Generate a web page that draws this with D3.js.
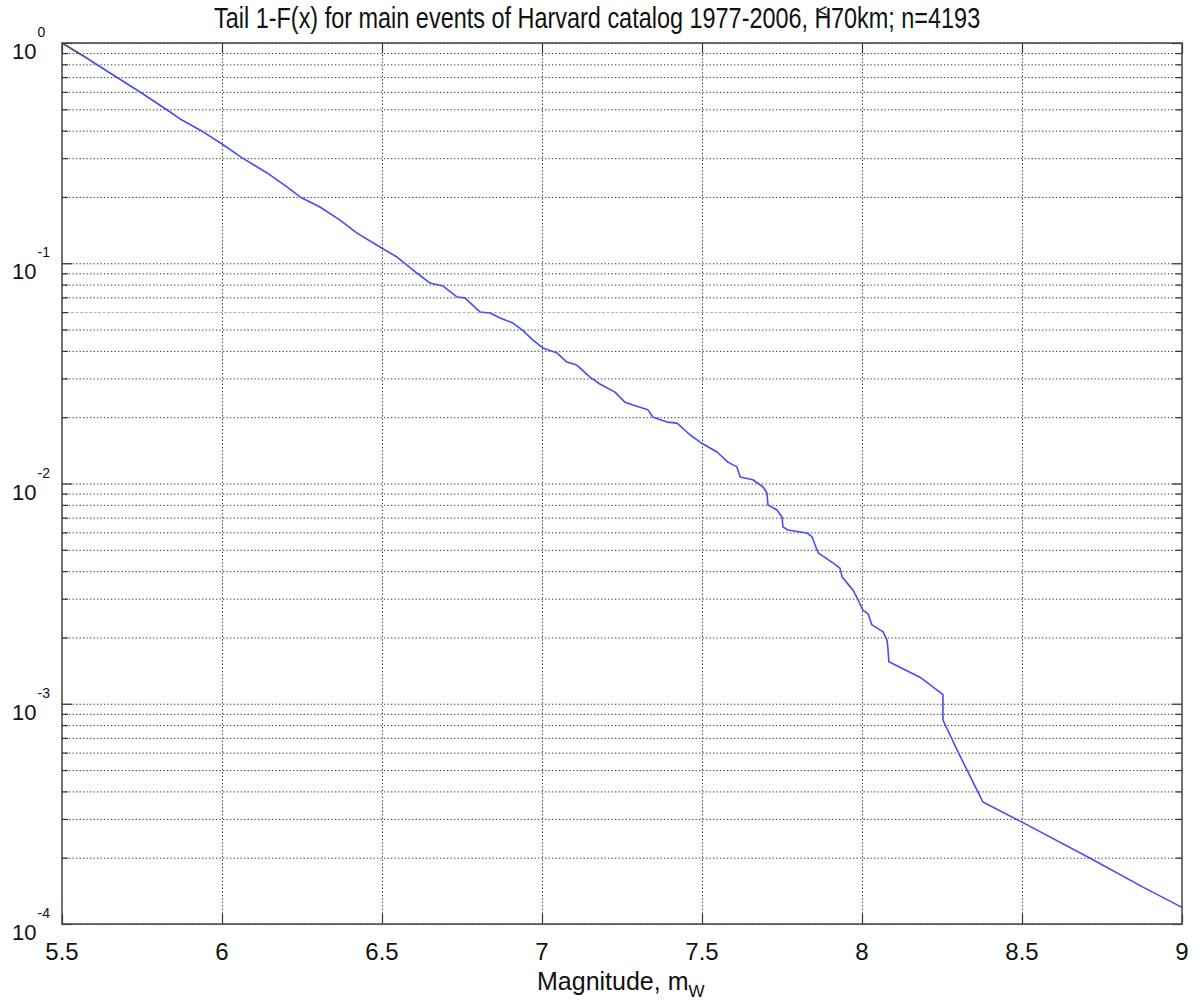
<!DOCTYPE html>
<html>
<head>
<meta charset="utf-8">
<script src="https://cdn.jsdelivr.net/npm/d3@7"></script>
<style>
  body { margin: 0; background: #fff; }
  text { font-family: "Liberation Sans", Arial, Helvetica, sans-serif; fill: #111; }
</style>
</head>
<body>
<svg id="chart" width="1203" height="1006"></svg>
<script>
// Empirical tail 1-F(x) of main-event magnitudes
const magnitudes = [
  5.500, 5.572, 5.650, 5.744, 5.838, 5.869, 5.931, 6.000, 6.063, 6.141,
  6.203, 6.244, 6.306, 6.369, 6.422, 6.500, 6.547, 6.609, 6.650, 6.691,
  6.734, 6.759, 6.806, 6.838, 6.869, 6.909, 6.938, 6.972, 7.003, 7.047,
  7.078, 7.109, 7.150, 7.181, 7.228, 7.259, 7.284, 7.331, 7.347, 7.391,
  7.422, 7.463, 7.494, 7.547, 7.581, 7.609, 7.619, 7.659, 7.691, 7.703,
  7.706, 7.734, 7.750, 7.753, 7.769, 7.828, 7.844, 7.863, 7.909, 7.931,
  7.938, 7.972, 7.988, 8.003, 8.019, 8.031, 8.066, 8.078, 8.081, 8.084,
  8.181, 8.206, 8.253, 8.253, 8.297, 8.359, 8.378, 8.500, 8.713, 8.878,
  9.000
];
const tailValues = [
  1.000, 0.864, 0.731, 0.599, 0.486, 0.452, 0.403, 0.348, 0.301, 0.257,
  0.222, 0.200, 0.180, 0.157, 0.137, 0.117, 0.1067, 0.0903, 0.0813, 0.0788,
  0.0703, 0.0696, 0.0601, 0.0594, 0.0564, 0.0535, 0.0498, 0.0448, 0.0412, 0.0391,
  0.0356, 0.0345, 0.0304, 0.0283, 0.0260, 0.0234, 0.0227, 0.0216, 0.0200, 0.0190,
  0.0188, 0.0166, 0.0154, 0.0139, 0.0125, 0.0119, 0.0107, 0.0104, 0.00964, 0.00906,
  0.00799, 0.00758, 0.00705, 0.00635, 0.00615, 0.00596, 0.00572, 0.00484, 0.00436, 0.00413,
  0.00376, 0.00328, 0.00296, 0.00266, 0.00256, 0.00228, 0.00212, 0.00195, 0.00179, 0.00155,
  0.00132, 0.00124, 0.00110, 0.000844, 0.000617, 0.000406, 0.000358, 0.000290, 0.000199, 0.000147,
  0.000119
];

const xTickValues = [5.5, 6, 6.5, 7, 7.5, 8, 8.5, 9];
const xTickLabels = ["5.5", "6", "6.5", "7", "7.5", "8", "8.5", "9"];
const decadeExponents = [0, -1, -2, -3, -4];
const minorMultipliers = [2, 3, 4, 5, 6, 7, 8, 9];
const titleParts = ["Tail 1-F(x) for main events of Harvard catalog 1977-2006, H", "\u2264", "70km; n=4193"];
const xLabelMain = "Magnitude, m";
const xLabelSub = "W";

const svg = d3.select("#chart");
const plotLeft = 62, plotRight = 1182, plotTop = 43, plotBottom = 924;
const plotW = plotRight - plotLeft, plotH = plotBottom - plotTop;

const x = d3.scaleLinear().domain([5.5, 9]).range([plotLeft, plotRight]);
const y = d3.scaleLog().domain([1e-4, 1]).range([plotBottom, plotTop]);

const decadeValues = decadeExponents.map(e => Math.pow(10, e));
const minorValues = [];
decadeExponents.filter(e => e < 0).forEach(e => {
  minorMultipliers.forEach(m => minorValues.push(+(m * Math.pow(10, e)).toPrecision(3)));
});
const allYGrid = decadeValues.concat(minorValues);
const isFaint = d => Math.abs(d - 0.06) < 1e-9;

// dotted grid
const gridY = svg.append("g").attr("transform", `translate(${plotLeft},0)`)
  .call(d3.axisLeft(y).tickValues(allYGrid).tickSize(-plotW).tickFormat(""));
gridY.select(".domain").remove();
gridY.selectAll(".tick line")
  .attr("stroke", d => isFaint(d) ? "#9a9a9a" : "#333")
  .attr("stroke-width", d => isFaint(d) ? 0.8 : 1)
  .attr("stroke-dasharray", d => isFaint(d) ? "3,1.5" : "1.3,2.2");

const gridX = svg.append("g").attr("transform", `translate(0,${plotBottom})`)
  .call(d3.axisBottom(x).tickValues(xTickValues.slice(1, -1)).tickSize(-plotH).tickFormat(""));
gridX.select(".domain").remove();
gridX.selectAll(".tick line").attr("stroke", "#333").attr("stroke-dasharray", "1.3,2.2");

// inward tick marks on all four sides
function tickSide(axisFn, scale, values, size, transform) {
  const g = svg.append("g").attr("transform", transform)
    .call(axisFn(scale).tickValues(values).tickSize(size).tickFormat(""));
  g.select(".domain").remove();
  g.selectAll(".tick line").attr("stroke", "#333").attr("stroke-width", 1.2);
}
tickSide(d3.axisLeft, y, decadeValues, -10, `translate(${plotLeft},0)`);
tickSide(d3.axisLeft, y, minorValues, -6, `translate(${plotLeft},0)`);
tickSide(d3.axisRight, y, decadeValues, -10, `translate(${plotRight},0)`);
tickSide(d3.axisRight, y, minorValues, -6, `translate(${plotRight},0)`);
tickSide(d3.axisBottom, x, xTickValues, -10, `translate(0,${plotBottom})`);
tickSide(d3.axisTop, x, xTickValues, -10, `translate(0,${plotTop})`);

// the curve
const pts = magnitudes.map((m, i) => [m, tailValues[i]]);
const line = d3.line().x(d => x(d[0])).y(d => y(d[1]));
svg.append("path").datum(pts).attr("d", line)
  .attr("fill", "none").attr("stroke", "#4b4bf2").attr("stroke-width", 1.6)
  .attr("stroke-linejoin", "round");
svg.append("path").datum(pts.slice(0, 2)).attr("d", line)
  .attr("fill", "none").attr("stroke", "#555").attr("stroke-width", 1.4);

// axes box
svg.append("rect").attr("x", plotLeft).attr("y", plotTop).attr("width", plotW).attr("height", plotH)
  .attr("fill", "none").attr("stroke", "#444").attr("stroke-width", 1.5);

// x tick labels
svg.append("g").selectAll("text").data(xTickValues).join("text")
  .attr("x", d => x(d)).attr("y", 960)
  .attr("text-anchor", "middle").attr("font-size", 24)
  .text((d, i) => xTickLabels[i]);

// y tick labels: 10 with exponent
const yl = svg.append("g").selectAll("text").data(decadeExponents).join("text")
  .attr("x", 12).attr("y", e => y(Math.pow(10, e)) + 16).attr("font-size", 22);
yl.append("tspan").text("10");
yl.append("tspan").attr("font-size", 14).attr("dx", 1).attr("dy", -22).text(e => String(e));

// title, narrowed to its width; the "≤" sits raised over the H
const titleSize = 29, leSize = 20, leRaise = 10;
const hW = 0.722 * titleSize, leW = 0.584 * leSize;
const leShift = -hW + (hW - leW) / 2;     // back over the H, centred on it
const afterLe = (hW - leW) / 2;           // forward to the end of the H
const title = svg.append("text").attr("font-size", titleSize);
title.append("tspan").text(titleParts[0]);
title.append("tspan").attr("font-size", leSize).attr("dx", leShift).attr("dy", -leRaise).text(titleParts[1]);
title.append("tspan").attr("dx", afterLe).attr("dy", leRaise).text(titleParts[2]);
const tw = title.node().getComputedTextLength();
title.attr("transform", `translate(214,28) scale(${776 / tw},1)`);

// x-axis label
const xl = svg.append("text").attr("x", 537).attr("y", 990).attr("font-size", 25);
xl.append("tspan").text(xLabelMain);
xl.append("tspan").attr("font-size", 17).attr("dy", 7).text(xLabelSub);
</script>
</body>
</html>
